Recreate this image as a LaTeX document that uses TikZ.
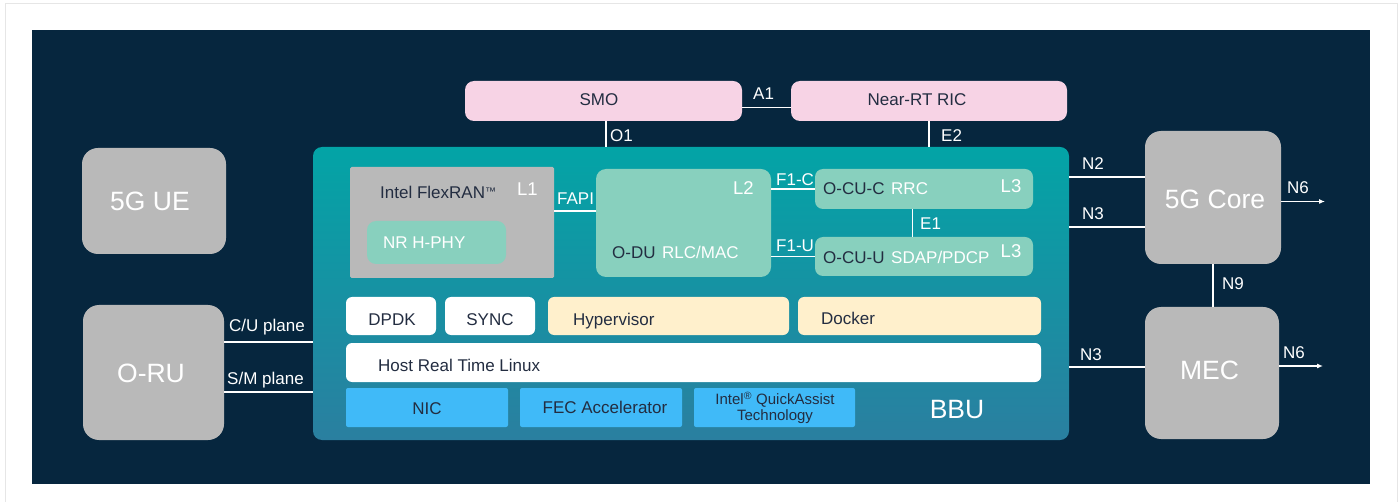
\documentclass[tikz,border=0pt]{standalone}
\usepackage{fontspec}
\setmainfont{Liberation Sans}
\usetikzlibrary{arrows.meta}

\definecolor{navy}{RGB}{6,38,62}
\definecolor{ink}{RGB}{35,45,65}
\definecolor{boxgray}{RGB}{185,185,185}
\definecolor{mint}{RGB}{136,208,190}
\definecolor{pinkbox}{RGB}{247,211,229}
\definecolor{cream}{RGB}{255,240,204}
\definecolor{nicblue}{RGB}{64,186,248}
\definecolor{bbutop}{RGB}{3,164,166}
\definecolor{bbubot}{RGB}{42,127,160}
\definecolor{framegray}{RGB}{230,230,230}

\tikzset{
	box/.style={inner sep=0pt, outer sep=0pt, rounded corners=6pt},
	bigbox/.style={box, fill=boxgray, rounded corners=16pt},
	txt/.style={inner sep=0pt, text=ink, font=\fontsize{17}{19}\selectfont},
	wtxt/.style={txt, text=white},
	layer/.style={wtxt, font=\fontsize{18.5}{21}\selectfont},
	big/.style={inner sep=0pt, text=white, font=\fontsize{26.5}{30}\selectfont},
	link/.style={white, line width=1.3pt},
}

\begin{document}
\begin{tikzpicture}[x=1pt, y=-1pt]
	\useasboundingbox (0,0) rectangle (1399,502);
	\draw[framegray, line width=1pt] (5,502) -- (5,4) -- (1397,4) -- (1397,502);
	\fill[navy] (32,30) rectangle (1370,484);

	% outer blocks
	\node[bigbox, minimum width=144pt, minimum height=106pt] (ue) at (154,201) {};
	\node[bigbox, minimum width=141pt, minimum height=135pt] (oru) at (153.5,372.5) {};
	\node[bigbox, minimum width=136pt, minimum height=133pt] (core) at (1213,197.5) {};
	\node[bigbox, minimum width=134pt, minimum height=132pt] (mec) at (1212,373) {};
	\node[box, fill=pinkbox, rounded corners=9pt, minimum width=277pt, minimum height=40pt] (smo) at (603.5,101) {};
	\node[box, fill=pinkbox, rounded corners=9pt, minimum width=276pt, minimum height=40pt] (ric) at (929,101) {};
	\node[box, top color=bbutop, bottom color=bbubot, rounded corners=9pt, minimum width=756pt, minimum height=293pt] (bbu) at (691,293.5) {};

	% inside the BBU
	\node[box, fill=boxgray, rounded corners=1.5pt, minimum width=204pt, minimum height=111pt] (flexran) at (452,222.5) {};
	\node[box, fill=mint, rounded corners=9pt, minimum width=139pt, minimum height=43pt] (hphy) at (436.5,242.5) {};
	\node[box, fill=mint, rounded corners=10pt, minimum width=175pt, minimum height=108pt] (odu) at (683.5,223) {};
	\node[box, fill=mint, rounded corners=8pt, minimum width=218pt, minimum height=40pt] (cuc) at (924,189) {};
	\node[box, fill=mint, rounded corners=8pt, minimum width=218pt, minimum height=39pt] (cuu) at (924,256.5) {};
	\node[box, fill=white, minimum width=90pt, minimum height=38pt] (dpdk) at (391,316) {};
	\node[box, fill=white, minimum width=90pt, minimum height=38pt] (sync) at (490,316) {};
	\node[box, fill=cream, minimum width=241pt, minimum height=38pt] (hyper) at (668.5,316) {};
	\node[box, fill=cream, minimum width=243pt, minimum height=38pt] (docker) at (919.5,316) {};
	\node[box, fill=white, minimum width=695pt, minimum height=39pt] (linux) at (693.5,362.5) {};
	\node[box, fill=nicblue, rounded corners=2pt, minimum width=162pt, minimum height=39pt] (nic) at (427,407.5) {};
	\node[box, fill=nicblue, rounded corners=2pt, minimum width=162pt, minimum height=39pt] (fec) at (601,407.5) {};
	\node[box, fill=nicblue, rounded corners=2pt, minimum width=161pt, minimum height=39pt] (qat) at (774.5,407.5) {};

	% interfaces
	\draw[link] ([yshift=-6.5pt]smo.east) -- ([yshift=-6.5pt]ric.west);
	\coordinate (o1) at ([xshift=2.5pt]smo.south);
	\draw[link] (o1) -- (o1 |- bbu.north);
	\draw[link] (ric.south) -- (ric.south |- bbu.north);
	\draw[link] ([yshift=11.5pt]flexran.east) -- ([yshift=12pt]odu.west);
	\draw[link] (odu.east |- cuc.west) -- (cuc.west);
	\draw[link] (odu.east |- cuu.west) -- (cuu.west);
	\draw[link] ([xshift=-11.5pt]cuc.south) -- ([xshift=-11.5pt]cuu.north);
	\coordinate (n2) at ([yshift=20.5pt]core.west);
	\coordinate (n3) at ([yshift=-29.5pt]core.west);
	\coordinate (n3b) at ([yshift=6pt]mec.west);
	\draw[link] (n2 -| bbu.east) -- (n2);
	\draw[link] (n3 -| bbu.east) -- (n3);
	\draw[link] (n3b -| bbu.east) -- (n3b);
	\draw[link] (core.south) -- (core.south |- mec.north);
	\coordinate (n6) at (1325,201.5);
	\coordinate (n6b) at (1323,366);
	\draw[link, -{Latex[length=6pt, width=5pt]}] ([yshift=-4pt]core.east) -- (n6);
	\draw[link, -{Latex[length=6pt, width=5pt]}] ([yshift=7pt]mec.east) -- (n6b);
	\coordinate (cu) at ([yshift=30.5pt]oru.east);
	\coordinate (sm) at ([yshift=-19.5pt]oru.east);
	\draw[link] (cu) -- (cu -| bbu.west);
	\draw[link] (sm) -- (sm -| bbu.west);

	% interface labels
	\node[wtxt, anchor=base west] (a1) at (753,100) {A1};
	\node[wtxt, anchor=base west] (o1t) at (610,142) {O1};
	\node[wtxt, anchor=base west] (e2t) at (941,142) {E2};
	\node[wtxt, anchor=base west] (fapi) at (557,205) {FAPI};
	\node[wtxt, anchor=base west] (f1c) at (776,185.7) {F1-C};
	\node[wtxt, anchor=base west] (f1u) at (776,251.7) {F1-U};
	\node[wtxt, anchor=base west] (e1t) at (920,230) {E1};
	\node[wtxt, anchor=base west] (n2t) at (1082,169.3) {N2};
	\node[wtxt, anchor=base west] (n3t) at (1082,220) {N3};
	\node[wtxt, anchor=base west] (n6t) at (1287,194) {N6};
	\node[wtxt, anchor=base west] (n9t) at (1222,290) {N9};
	\node[wtxt, anchor=base west] (n3bt) at (1080,360) {N3};
	\node[wtxt, anchor=base west] (n6bt) at (1283,358.3) {N6};
	\node[wtxt, anchor=base west] (cut) at (229,331.7) {C/U plane};
	\node[wtxt, anchor=base west] (smt) at (227,384) {S/M plane};

	% block texts
	\node[big, anchor=base] (uet) at (150,211) {5G UE};
	\node[big, anchor=base] (orut) at (151,382.7) {O-RU};
	\node[big, anchor=base] (coret) at (1215,209) {5G Core};
	\node[big, anchor=base] (mect) at (1209.5,379) {MEC};
	\node[big, anchor=base] (bbut) at (957,418) {BBU};
	\node[txt, anchor=base] (smot) at (599,105.7) {SMO};
	\node[txt, anchor=base] (rict) at (917,105.5) {Near-RT RIC};
	\node[txt, anchor=base west] (flext) at (380,198.3) {Intel FlexRAN\raisebox{3pt}{\fontsize{11}{11}\selectfont ™}};
	\node[layer, anchor=base west] (l1) at (517,196) {L1};
	\node[wtxt, anchor=base west] (hphyt) at (383,248.3) {NR H-PHY};
	\node[layer, anchor=base west] (l2) at (733,195) {L2};
	\node[txt, anchor=base west] (odut) at (612,258.3) {O-DU};
	\node[wtxt, anchor=base west] (rlc) at (662,258.3) {RLC/MAC};
	\node[txt, anchor=base west] (cuct) at (823,195) {O-CU-C};
	\node[wtxt, anchor=base west] (rrc) at (891,195) {RRC};
	\node[layer, anchor=base west] (l3a) at (1000.5,192.3) {L3};
	\node[txt, anchor=base west] (cuut) at (823,263.3) {O-CU-U};
	\node[wtxt, anchor=base west] (sdap) at (891,263.3) {SDAP/PDCP};
	\node[layer, anchor=base west] (l3b) at (1000.5,257.3) {L3};
	\node[txt, anchor=base] (dpdkt) at (392,325.7) {DPDK};
	\node[txt, anchor=base] (synct) at (490,325.7) {SYNC};
	\node[txt, anchor=base west] (hypert) at (573,325.7) {Hypervisor};
	\node[txt, anchor=base west] (dockert) at (821,324.3) {Docker};
	\node[txt, anchor=base west] (linuxt) at (378,371) {Host Real Time Linux};
	\node[txt, anchor=base] (nict) at (427,414.3) {NIC};
	\node[txt, anchor=base] (fect) at (605,413.3) {FEC Accelerator};
	\node[txt, align=center, font=\fontsize{15}{15.7}\selectfont] (qatt) at (775,407.5) {Intel\textsuperscript{®} QuickAssist\\Technology};
\end{tikzpicture}
\end{document}
